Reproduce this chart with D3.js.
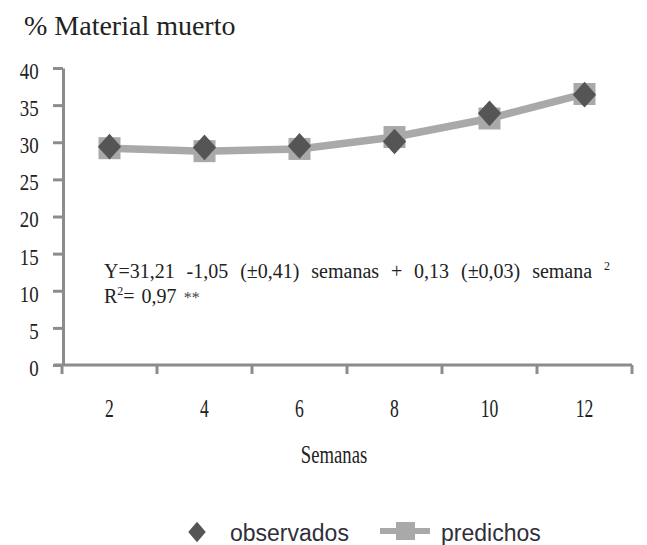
<!DOCTYPE html>
<html>
<head>
<meta charset="utf-8">
<script src="https://cdn.jsdelivr.net/npm/d3@7"></script>
<style>
    body { margin: 0; background: #fff; }
    svg { display: block; }
</style>
</head>
<body>
<div id="chart"></div>
<script>
// Data
const semanas = ["2", "4", "6", "8", "10", "12"];
const observados = [29.4, 29.3, 29.5, 30.1, 33.9, 36.4];
const predichos = [29.2, 28.8, 29.1, 30.7, 33.2, 36.5];
const yTicks = [0, 5, 10, 15, 20, 25, 30, 35, 40];

const width = 647, height = 545;
const margin = {top: 68, right: 15, bottom: 180, left: 62};

const svg = d3.select("#chart")
    .append("svg")
    .attr("width", width)
    .attr("height", height);

const x = d3.scaleBand()
    .domain(semanas)
    .range([margin.left, width - margin.right]);

const y = d3.scaleLinear()
    .domain([0, 40])
    .range([height - margin.bottom, margin.top]);

const axisColor = "#8c8c8c";
const serif = "Liberation Serif, Times New Roman, serif";

// title
svg.append("text")
    .attr("x", 24)
    .attr("y", 35)
    .attr("font-family", serif)
    .attr("font-size", 28)
    .attr("fill", "#222")
    .text("% Material muerto");

// y axis
const yAxis = g => g
    .attr("transform", `translate(${margin.left + 1},0)`)
    .call(d3.axisLeft(y).tickValues(yTicks).tickSize(10).tickSizeOuter(0).tickPadding(17))
    .call(g => g.select(".domain").attr("stroke", axisColor).attr("stroke-width", 3))
    .call(g => g.selectAll(".tick line").attr("stroke", axisColor).attr("stroke-width", 3))
    .call(g => g.selectAll(".tick text")
        .attr("fill", "#222")
        .attr("font-family", serif)
        .attr("font-size", 21)
        .attr("transform", "scale(0.9,1.1)")
        .attr("dy", "0.45em"));

svg.append("g").call(yAxis);

// x axis: ticks sit between the categories
const xAxis = g => {
    g.append("line")
        .attr("x1", margin.left - 8)
        .attr("x2", width - margin.right)
        .attr("y1", y(0))
        .attr("y2", y(0))
        .attr("stroke", axisColor)
        .attr("stroke-width", 3);
    const bounds = semanas.map(d => x(d)).concat([x.range()[1]]);
    g.selectAll(".xtick")
        .data(bounds)
        .join("line")
        .attr("class", "xtick")
        .attr("x1", d => d)
        .attr("x2", d => d)
        .attr("y1", y(0))
        .attr("y2", y(0) + 9)
        .attr("stroke", axisColor)
        .attr("stroke-width", 3);
    g.selectAll(".xlab")
        .data(semanas)
        .join("text")
        .attr("class", "xlab")
        .attr("transform", d => `translate(${x(d) + x.bandwidth() / 2},${y(0) + 52}) scale(0.8,1.15)`)
        .attr("text-anchor", "middle")
        .attr("font-family", serif)
        .attr("font-size", 22)
        .attr("fill", "#222")
        .text(d => d);
};

svg.append("g").call(xAxis);

svg.append("text")
    .attr("transform", "translate(334,463) scale(0.85,1.1)")
    .attr("text-anchor", "middle")
    .attr("font-family", serif)
    .attr("font-size", 22)
    .attr("fill", "#222")
    .text("Semanas");

// predicted line with square markers
const predColor = "#a9a9a9";
const obsColor = "#555555";
const cx = (d, i) => x(semanas[i]) + x.bandwidth() / 2;

svg.append("path")
    .datum(predichos)
    .attr("fill", "none")
    .attr("stroke", predColor)
    .attr("stroke-width", 7.5)
    .attr("d", d3.line().x(cx).y(d => y(d)));

svg.append("g")
    .selectAll("rect")
    .data(predichos)
    .join("rect")
    .attr("x", (d, i) => cx(d, i) - 11)
    .attr("y", d => y(d) - 11)
    .attr("width", 22)
    .attr("height", 22)
    .attr("fill", predColor);

// observed diamonds
const diamond = d3.symbol().type(d3.symbolSquare).size(300);
svg.append("g")
    .selectAll("path")
    .data(observados)
    .join("path")
    .attr("d", diamond)
    .attr("transform", (d, i) => `translate(${cx(d, i)},${y(d)}) scale(0.95,1.05) rotate(45)`)
    .attr("fill", obsColor);

// regression equation, words spread out to the width seen in the picture
const eq = svg.append("g")
    .attr("font-family", serif)
    .attr("font-size", 20)
    .attr("fill", "#222");

const line1 = eq.append("text")
    .attr("x", 104)
    .attr("y", 278);
line1.append("tspan").text("Y=31,21 -1,05 (±0,41) semanas + 0,13 (±0,03) semana ");
line1.append("tspan").attr("font-size", 12).attr("dy", -8).text("2");

const natural = line1.node().getComputedTextLength();
const gaps = 8;
line1.attr("word-spacing", Math.max(0, (506 - natural) / gaps));

const line2 = eq.append("text")
    .attr("x", 104)
    .attr("y", 303)
    .attr("word-spacing", 2);
line2.append("tspan").text("R");
line2.append("tspan").attr("font-size", 12).attr("dy", -8).text("2");
line2.append("tspan").attr("dy", 8).text("= 0,97 ");
line2.append("tspan").attr("fill", "#444").attr("font-size", 16).text("**");

// legend
const legend = svg.append("g")
    .attr("font-family", "Liberation Sans, Arial, sans-serif")
    .attr("font-size", 23)
    .attr("fill", "#2f2f3a");

legend.append("path")
    .attr("d", d3.symbol().type(d3.symbolSquare).size(170))
    .attr("transform", "translate(197,532) scale(0.95,1.1) rotate(45)")
    .attr("fill", obsColor);

legend.append("text")
    .attr("x", 230)
    .attr("y", 541)
    .text("observados");

legend.append("line")
    .attr("x1", 380)
    .attr("x2", 430)
    .attr("y1", 531)
    .attr("y2", 531)
    .attr("stroke", predColor)
    .attr("stroke-width", 6);

legend.append("rect")
    .attr("x", 396)
    .attr("y", 522)
    .attr("width", 19)
    .attr("height", 18)
    .attr("fill", predColor);

legend.append("text")
    .attr("x", 441)
    .attr("y", 541)
    .text("predichos");
</script>
</body>
</html>
